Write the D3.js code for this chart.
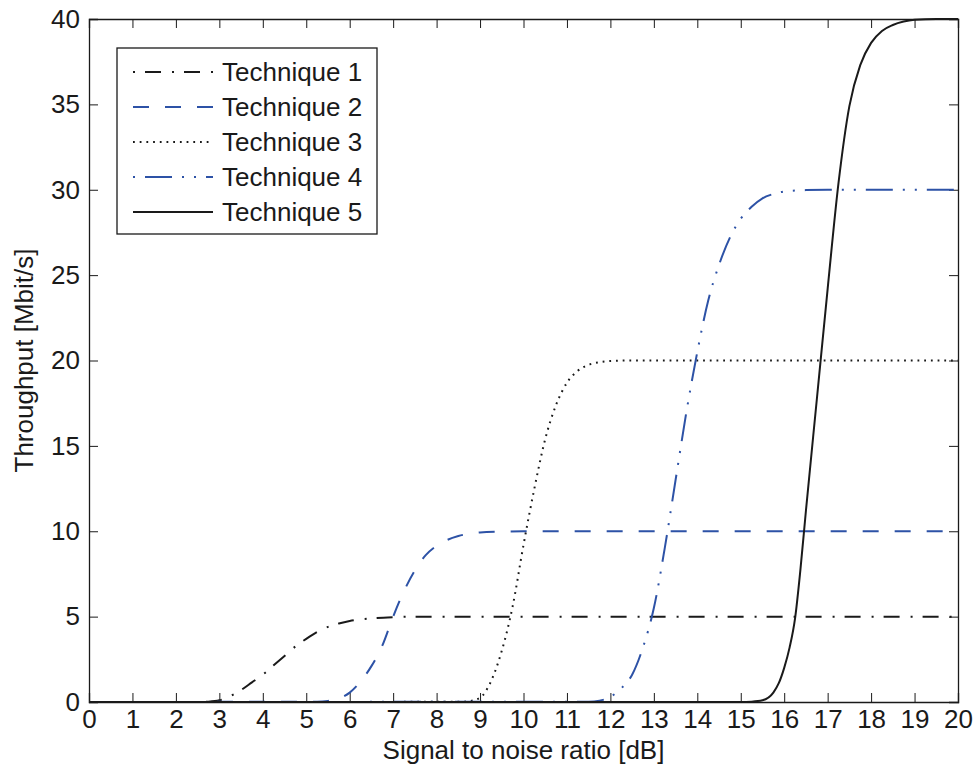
<!DOCTYPE html>
<html>
<head>
<meta charset="utf-8">
<script src="https://cdn.jsdelivr.net/npm/d3@7"></script>
<style>
  body { margin: 0; background: #fff; }
  text { font-family: "Liberation Sans", Arial, sans-serif; fill: #1a1a1a; }
</style>
</head>
<body>
<div id="chart"></div>
<script>
// values
const tech1Snr  = [0, 2.5, 2.75, 3, 3.25, 3.5, 3.75, 4, 4.25, 4.5, 4.75, 5, 5.25, 5.5, 5.75, 6, 6.5, 7, 7.5, 20];
const tech1Rate = [0, 0, 0.02, 0.1, 0.35, 0.7, 1.15, 1.6, 2.15, 2.7, 3.25, 3.7, 4.1, 4.4, 4.6, 4.75, 4.9, 4.97, 5, 5];

const tech2Snr  = [0, 5.25, 5.5, 5.75, 6, 6.25, 6.5, 6.75, 7, 7.25, 7.5, 7.75, 8, 8.25, 8.5, 8.75, 9, 9.5, 10, 20];
const tech2Rate = [0, 0.02, 0.06, 0.2, 0.55, 1.2, 2.1, 3.3, 5.0, 6.5, 7.7, 8.6, 9.15, 9.5, 9.72, 9.86, 9.93, 9.98, 10, 10];

const tech3Snr  = [0, 8.5, 8.75, 9, 9.25, 9.5, 9.75, 10, 10.25, 10.5, 10.75, 11, 11.25, 11.5, 11.75, 12, 12.5, 20];
const tech3Rate = [0, 0.01, 0.05, 0.25, 1.2, 3.0, 5.6, 9.2, 12.5, 15.4, 17.4, 18.7, 19.4, 19.75, 19.9, 19.97, 20, 20];

const tech4Snr  = [0, 11.5, 11.75, 12, 12.25, 12.5, 12.75, 13, 13.25, 13.5, 13.75, 14, 14.25, 14.5, 14.75, 15, 15.25, 15.5, 15.75, 16, 16.5, 17, 20];
const tech4Rate = [0, 0.02, 0.08, 0.3, 0.8, 1.6, 3.2, 5.5, 9.0, 13.0, 17.0, 20.5, 23.5, 25.6, 27.2, 28.3, 29.0, 29.5, 29.75, 29.9, 29.98, 30, 30];

const tech5Snr  = [0, 15, 15.25, 15.5, 15.75, 15.875, 16, 16.125, 16.25, 16.375, 16.5, 16.75, 17, 17.25, 17.5, 17.75, 18, 18.25, 18.5, 18.75, 19, 19.5, 20];
const tech5Rate = [0, 0, 0.02, 0.1, 0.55, 1.1, 2.0, 3.2, 4.9, 7.8, 11.2, 17.7, 24.2, 30.4, 34.9, 37.3, 38.6, 39.3, 39.65, 39.85, 39.95, 40, 40];

const seriesNames = ["Technique 1", "Technique 2", "Technique 3", "Technique 4", "Technique 5"];
const xTicks = d3.range(0, 21, 1);
const yTicks = d3.range(0, 41, 5);

const width = 975, height = 778;
const margin = {top: 19, right: 17, bottom: 76, left: 89};
const blue = "#2d52a6", black = "#1a1a1a";

const series = [
    {name: seriesNames[0], snr: tech1Snr, rate: tech1Rate, color: black, dash: "16,11,2,10", legendOffset: 27},
    {name: seriesNames[1], snr: tech2Snr, rate: tech2Rate, color: blue,  dash: "16,16", legendOffset: 0},
    {name: seriesNames[2], snr: tech3Snr, rate: tech3Rate, color: black, dash: "1.8,4.9", legendOffset: 0},
    {name: seriesNames[3], snr: tech4Snr, rate: tech4Rate, color: blue,  dash: "27,10,2,10,2,10", legendOffset: 49},
    {name: seriesNames[4], snr: tech5Snr, rate: tech5Rate, color: black, dash: null, legendOffset: 0}
];

const svg = d3.select("#chart").append("svg")
    .attr("width", width)
    .attr("height", height);

const x = d3.scaleLinear().domain([0, 20]).range([margin.left, width - margin.right]);
const y = d3.scaleLinear().domain([0, 40]).range([height - margin.bottom, margin.top]);

// plot box
svg.append("rect")
    .attr("x", x(0)).attr("y", y(40))
    .attr("width", x(20) - x(0)).attr("height", y(0) - y(40))
    .attr("fill", "#fff");

// axes, ticks pointing inward like matlab
const tickLen = 9;
const axisFont = "26px";

const xBottom = svg.append("g")
    .attr("transform", `translate(0,${y(0)})`)
    .call(d3.axisBottom(x).tickValues(xTicks).tickSize(-tickLen).tickPadding(8).tickFormat(d3.format("d")));
const xTop = svg.append("g")
    .attr("transform", `translate(0,${y(40)})`)
    .call(d3.axisTop(x).tickValues(xTicks).tickSize(-tickLen).tickFormat(""));
const yLeft = svg.append("g")
    .attr("transform", `translate(${x(0)},0)`)
    .call(d3.axisLeft(y).tickValues(yTicks).tickSize(-tickLen).tickPadding(9).tickFormat(d3.format("d")));
const yRight = svg.append("g")
    .attr("transform", `translate(${x(20)},0)`)
    .call(d3.axisRight(y).tickValues(yTicks).tickSize(-tickLen).tickFormat(""));

[xBottom, xTop, yLeft, yRight].forEach(g => {
    g.select(".domain").attr("stroke", black).attr("stroke-width", 1.3);
    g.selectAll(".tick line").attr("stroke", black).attr("stroke-width", 1);
    g.selectAll("text").style("font-size", axisFont).attr("fill", black)
        .style("font-family", "'Liberation Sans', Arial, sans-serif");
});

// curves
const line = d3.line()
    .x(d => x(d[0]))
    .y(d => y(d[1]))
    .curve(d3.curveMonotoneX);

svg.append("g").selectAll("path")
    .data(series)
    .enter().append("path")
    .attr("d", s => line(s.snr.map((v, i) => [v, s.rate[i]])))
    .attr("fill", "none")
    .attr("stroke", s => s.color)
    .attr("stroke-width", 2)
    .attr("stroke-dasharray", s => s.dash);

// axis labels
svg.append("text")
    .attr("x", (x(0) + x(20)) / 2)
    .attr("y", 759)
    .attr("text-anchor", "middle")
    .style("font-size", "26px")
    .text("Signal to noise ratio [dB]");

svg.append("text")
    .attr("transform", `translate(33,${(y(0) + y(40)) / 2}) rotate(-90)`)
    .attr("text-anchor", "middle")
    .style("font-size", "26px")
    .text("Throughput [Mbit/s]");

// legend
const legend = svg.append("g").attr("transform", "translate(117,48)");
legend.append("rect")
    .attr("width", 260).attr("height", 186)
    .attr("fill", "#fff")
    .attr("stroke", black).attr("stroke-width", 1.3);

const legendItems = legend.selectAll(".legend-item")
    .data(series)
    .enter().append("g")
    .attr("class", "legend-item")
    .attr("transform", (d, i) => `translate(0,${24 + i * 35})`);

legendItems.append("line")
    .attr("x1", 16).attr("x2", 96)
    .attr("stroke", d => d.color)
    .attr("stroke-width", 2)
    .attr("stroke-dasharray", d => d.dash)
    .attr("stroke-dashoffset", d => d.legendOffset);

legendItems.append("text")
    .attr("x", 105)
    .attr("dy", "0.35em")
    .style("font-size", "26px")
    .text(d => d.name);
</script>
</body>
</html>
